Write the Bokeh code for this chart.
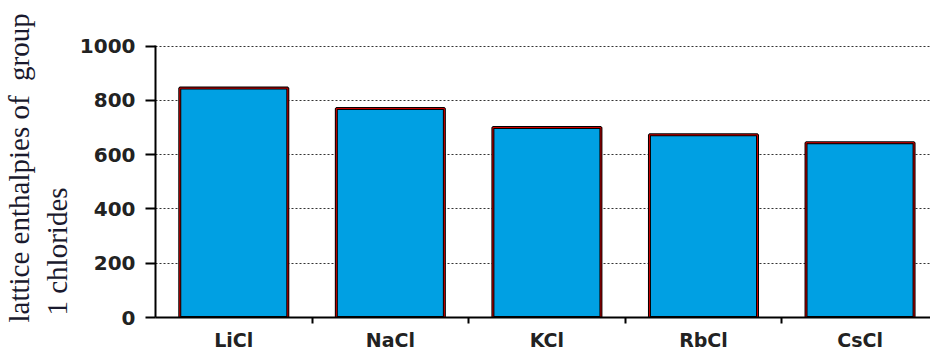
from bokeh.plotting import figure
from bokeh.models import Range1d, FixedTicker, LinearAxis, Title, Grid
from bokeh.embed import file_html
from bokeh.resources import INLINE

# ---- data ----
categories = ["LiCl", "NaCl", "KCl", "RbCl", "CsCl"]
lattice_enthalpy = [845, 770, 700, 673, 644]
y_ticks = [0, 200, 400, 600, 800, 1000]
y_title_line1 = "lattice enthalpies of\u00a0 group"
y_title_line2 = "1 chlorides"

xs = [i + 0.5 for i in range(len(categories))]
boundaries = [i for i in range(1, len(categories))]

p = figure(width=930, height=353, output_backend="svg", toolbar_location=None,
           x_range=Range1d(0, 4.95), y_range=Range1d(0, 1002),
           x_axis_type=None, y_axis_type=None,
           min_border_left=153, min_border_right=0, min_border_top=45,
           min_border_bottom=10)
p.outline_line_color = None
p.background_fill_color = "white"
p.border_fill_color = "white"

# y axis
yaxis = LinearAxis(ticker=FixedTicker(ticks=y_ticks, minor_ticks=[]))
yaxis.axis_line_color = "black"
yaxis.axis_line_width = 2
yaxis.major_tick_line_color = "black"
yaxis.major_tick_line_width = 2
yaxis.major_tick_out = 10
yaxis.major_tick_in = 0
yaxis.minor_tick_line_color = None
yaxis.major_label_standoff = 10
yaxis.major_label_text_font = "DejaVu Sans"
yaxis.major_label_text_font_style = "bold"
yaxis.major_label_text_font_size = "20px"
yaxis.major_label_text_color = "#222222"
p.add_layout(yaxis, "left")

# x axis
xaxis = LinearAxis(ticker=FixedTicker(ticks=xs, minor_ticks=boundaries))
xaxis.major_label_overrides = {x: c for x, c in zip(xs, categories)}
xaxis.axis_line_color = "black"
xaxis.axis_line_width = 2
xaxis.major_tick_line_color = None
xaxis.major_tick_out = 0
xaxis.major_tick_in = 0
xaxis.minor_tick_line_color = "black"
xaxis.minor_tick_line_width = 2
xaxis.minor_tick_out = 6
xaxis.minor_tick_in = 0
xaxis.major_label_standoff = 5
xaxis.major_label_text_font = "DejaVu Sans"
xaxis.major_label_text_font_style = "bold"
xaxis.major_label_text_font_size = "19px"
xaxis.major_label_text_color = "#222222"
p.add_layout(xaxis, "below")

# y title (two lines, inner first)
t2 = Title(text=y_title_line2, align="left", offset=2,
           text_font="Liberation Serif", text_font_size="29px",
           text_font_style="normal", text_color="#1a1a2e", standoff=8)
t1 = Title(text=y_title_line1, align="left", offset=-5,
           text_font="Liberation Serif", text_font_size="29px",
           text_font_style="normal", text_color="#1a1a2e", standoff=0)
p.add_layout(t2, "left")
p.add_layout(t1, "left")

# grid
p.ygrid.visible = False
p.xgrid.visible = False
g = Grid(dimension=1, ticker=FixedTicker(ticks=y_ticks[1:]))
g.grid_line_color = "#333333"
g.grid_line_dash = "2 2"
g.grid_line_width = 1
p.add_layout(g)

# bars
p.vbar(x=xs, top=lattice_enthalpy, bottom=0, width=0.69,
       fill_color="#00A0E3", line_color="black", line_width=3)
p.vbar(x=xs, top=lattice_enthalpy, bottom=0, width=0.69,
       fill_color=None, line_color="#D00000", line_width=1)

open("out.html", "w").write(file_html(p, INLINE))
